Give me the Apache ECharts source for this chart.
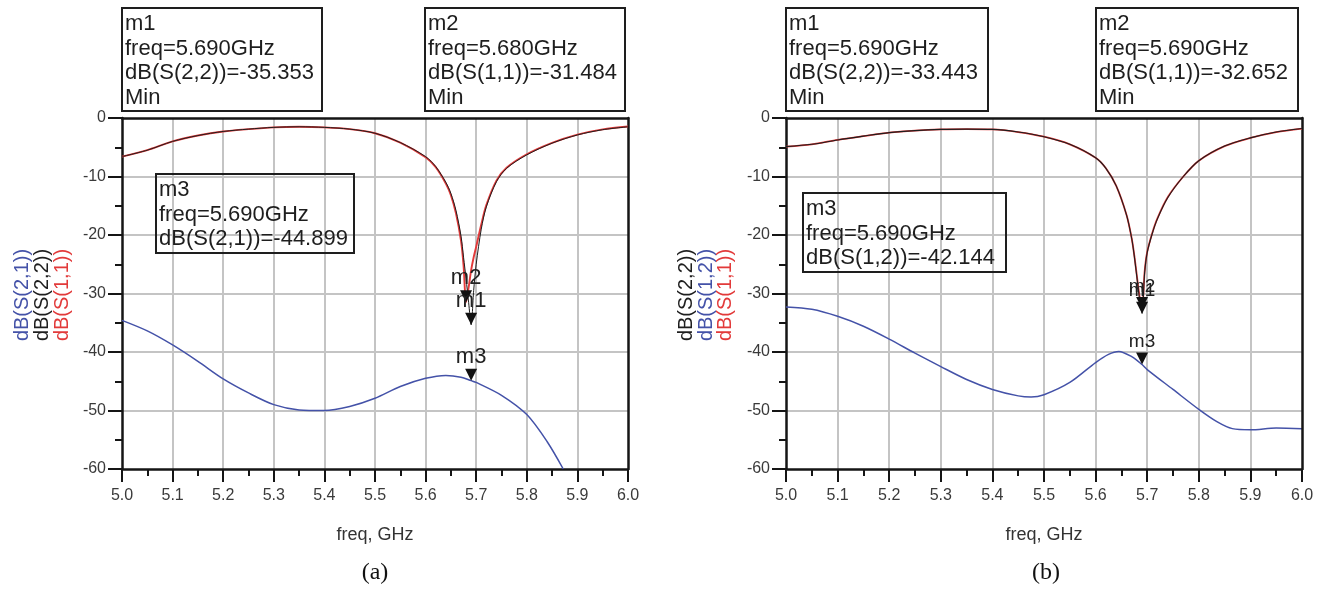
<!DOCTYPE html>
<html><head><meta charset="utf-8">
<script src="https://cdn.jsdelivr.net/npm/echarts@6/dist/echarts.min.js"></script>
<style>html,body{margin:0;padding:0;background:#fff}#c{width:1324px;height:590px}</style>
</head><body><div id="c"></div>
<script>
// ---------- DATA ----------
// Panel (a)
const freqA = [5.0,5.05,5.1,5.15,5.2,5.25,5.3,5.35,5.4,5.45,5.5,5.55,5.6,5.62,5.64,5.65,5.66,5.67,5.675,5.68,5.685,5.69,5.695,5.70,5.71,5.72,5.74,5.76,5.8,5.85,5.9,5.95,6.0];
const s22A  = [-6.6,-5.5,-4.0,-3.0,-2.3,-1.9,-1.6,-1.5,-1.6,-1.9,-2.6,-4.2,-6.6,-8.3,-11.0,-12.9,-15.8,-20.2,-23.8,-27.5,-31.5,-35.353,-29.5,-25.0,-19.0,-15.2,-10.9,-8.6,-6.3,-4.3,-2.9,-2.0,-1.5];
const s11A  = [-6.6,-5.5,-4.0,-3.0,-2.3,-1.9,-1.6,-1.5,-1.6,-1.9,-2.6,-4.2,-6.7,-8.4,-11.2,-13.2,-16.3,-21.0,-25.2,-31.484,-29.0,-26.0,-23.8,-22.0,-18.2,-14.9,-10.7,-8.5,-6.2,-4.25,-2.85,-1.95,-1.45];
const freqA21 = [5.0,5.05,5.1,5.15,5.2,5.25,5.3,5.35,5.4,5.45,5.5,5.55,5.6,5.64,5.67,5.69,5.7,5.75,5.8,5.84,5.872];
const s21A  = [-34.6,-36.4,-38.8,-41.6,-44.6,-47.0,-49.0,-49.9,-50.0,-49.3,-47.9,-45.9,-44.5,-44.0,-44.3,-44.899,-45.2,-47.4,-50.7,-55.3,-60.0];
// Panel (b)
const freqB = [5.0,5.05,5.1,5.15,5.2,5.25,5.3,5.35,5.4,5.45,5.5,5.55,5.6,5.62,5.64,5.66,5.67,5.675,5.68,5.685,5.69,5.695,5.70,5.71,5.72,5.74,5.77,5.8,5.85,5.9,5.95,6.0];
const s22B  = [-4.9,-4.5,-3.75,-3.1,-2.5,-2.15,-1.95,-1.9,-1.95,-2.4,-3.2,-4.5,-6.8,-8.6,-11.6,-16.6,-20.6,-23.6,-27.2,-30.8,-33.443,-26.5,-23.0,-19.7,-17.2,-13.6,-10.0,-7.3,-4.8,-3.4,-2.4,-1.8];
const s11B  = [-4.9,-4.5,-3.75,-3.1,-2.5,-2.15,-1.95,-1.9,-1.95,-2.4,-3.2,-4.5,-6.8,-8.6,-11.6,-16.6,-20.6,-23.5,-27.0,-30.4,-32.652,-26.3,-22.9,-19.6,-17.1,-13.5,-10.0,-7.3,-4.8,-3.4,-2.4,-1.8];
const freqB12 = [5.0,5.05,5.1,5.15,5.2,5.25,5.3,5.35,5.4,5.45,5.475,5.5,5.55,5.6,5.625,5.645,5.67,5.69,5.7,5.75,5.8,5.835,5.865,5.9,5.95,6.0];
const s12B  = [-32.3,-32.7,-33.9,-35.6,-37.8,-40.2,-42.5,-44.7,-46.4,-47.5,-47.7,-47.3,-45.2,-41.8,-40.4,-39.9,-40.8,-42.144,-43.0,-46.4,-49.8,-51.9,-53.1,-53.3,-53.0,-53.1];
// Markers
const markerNamesA = ['m1','m2','m3'];
const markerFreqA  = [5.690, 5.680, 5.690];
const markerValA   = [-35.353, -31.484, -44.899];
const markerExprA  = ['dB(S(2,2))','dB(S(1,1))','dB(S(2,1))'];
const markerMinA   = [true, true, false];
const markerNamesB = ['m1','m2','m3'];
const markerFreqB  = [5.690, 5.690, 5.690];
const markerValB   = [-33.443, -32.652, -42.144];
const markerExprB  = ['dB(S(2,2))','dB(S(1,1))','dB(S(1,2))'];
const markerMinB   = [true, true, false];
// Axis / labels
const xMin = 5.0, xMax = 6.0, xStep = 0.1;
const yMin = -60, yMax = 0, yStep = 10;
const xName = 'freq, GHz';
const yNamesA = ['dB(S(2,1))','dB(S(2,2))','dB(S(1,1))'];
const yNamesB = ['dB(S(2,2))','dB(S(1,2))','dB(S(1,1))'];
const captions = ['(a)','(b)'];

// ---------- STYLE / LAYOUT ----------
const FONT = 'Liberation Sans, Arial, sans-serif';
const BLUE = '#4452a8', RED = '#e23a3a', BLACK = '#1e1e1e';
const grids = [
  {left:122, top:118, width:506, height:351},
  {left:786, top:118, width:516, height:351}
];
const boxesA = [[122,8,200,103],[425,8,200,103],[156,174,198,79]];
const boxesB = [[786,8,202,103],[1096,8,202,103],[803,193,203,79]];
const yNamePosA = [[22,295],[42,295],[62,295]];
const yNamePosB = [[686,295],[706,295],[725,295]];
const yNameColA = [BLUE, BLACK, RED];
const yNameColB = [BLACK, BLUE, RED];

const pairs = (xs, ys) => xs.map((x,i)=>[x, ys[i]]);
const axisLineStyle = {color:'#151515', width:2.5};

function mainX(gi){
  return {type:'value', gridIndex:gi, min:xMin, max:xMax, interval:xStep, position:'bottom',
    axisLine:{show:true, onZero:false, lineStyle:axisLineStyle},
    axisTick:{show:true, length:13, lineStyle:{color:'#151515', width:2}},
    minorTick:{show:true, splitNumber:2, length:7, lineStyle:{color:'#151515', width:2}},
    axisLabel:{fontSize:16, color:'#3a3a3a', margin:19, fontFamily:FONT, formatter:v=>v.toFixed(1)},
    splitLine:{show:true, showMinLine:false, showMaxLine:false, lineStyle:{color:'#c4c4c4', width:2}},
    name:xName, nameLocation:'middle', nameGap:57,
    nameTextStyle:{fontSize:18, color:'#333', fontFamily:FONT}};
}
function borderX(gi){
  return {type:'value', gridIndex:gi, min:xMin, max:xMax, position:'top', z:3,
    axisLine:{show:true, onZero:false, lineStyle:axisLineStyle},
    axisTick:{show:false}, axisLabel:{show:false}, splitLine:{show:false}};
}
function mainY(gi){
  return {type:'value', gridIndex:gi, min:yMin, max:yMax, interval:yStep, position:'left',
    axisLine:{show:true, onZero:false, lineStyle:axisLineStyle},
    axisTick:{show:true, length:14, lineStyle:{color:'#151515', width:2}},
    minorTick:{show:true, splitNumber:2, length:7, lineStyle:{color:'#151515', width:2}},
    axisLabel:{fontSize:16, color:'#3a3a3a', margin:16, fontFamily:FONT},
    splitLine:{show:true, showMinLine:false, showMaxLine:false, lineStyle:{color:'#c4c4c4', width:2}}};
}
function borderY(gi){
  return {type:'value', gridIndex:gi, min:yMin, max:yMax, position:'right', z:3,
    axisLine:{show:true, onZero:false, lineStyle:axisLineStyle},
    axisTick:{show:false}, axisLabel:{show:false}, splitLine:{show:false}};
}

const TRI = 'path://M0,0 L12,0 L6,12 Z';
function mp(name, f, v, size){
  return {symbol:TRI, symbolSize:[12,12], symbolOffset:[0,'-50%'],
    itemStyle:{color:'#111'},
    label:{show:true, position:'top', distance:1, color:'#222', fontSize:size, fontFamily:FONT, formatter:'{b}'},
    data:[{name:name, coord:[f, v]}]};
}
function line(name, xi, yi, data, color, width, z, markPoint){
  const s = {type:'line', name, xAxisIndex:xi, yAxisIndex:yi, data, showSymbol:false,
    smooth:0.3, clip:true, z, lineStyle:{color, width}, itemStyle:{color}, silent:true};
  if (markPoint) s.markPoint = markPoint;
  return s;
}

const series = [
  line('S21a', 0, 0, pairs(freqA21, s21A), BLUE, 1.5, 2, mp(markerNamesA[2], markerFreqA[2], markerValA[2], 22)),
  line('S11a', 0, 0, pairs(freqA, s11A), RED, 1.9, 3, mp(markerNamesA[1], markerFreqA[1], markerValA[1], 22)),
  line('S22a', 0, 0, pairs(freqA, s22A), BLACK, 1.0, 4, mp(markerNamesA[0], markerFreqA[0], markerValA[0], 22)),
  line('S12b', 2, 2, pairs(freqB12, s12B), BLUE, 1.5, 2, mp(markerNamesB[2], markerFreqB[2], markerValB[2], 19)),
  line('S11b', 2, 2, pairs(freqB, s11B), RED, 1.8, 3, mp(markerNamesB[1], markerFreqB[1], markerValB[1], 19)),
  line('S22b', 2, 2, pairs(freqB, s22B), BLACK, 1.1, 4, mp(markerNamesB[0], markerFreqB[0], markerValB[0], 19))
];

function boxText(n, f, expr, v, isMin){
  const lines = [n, 'freq=' + f.toFixed(3) + 'GHz', expr + '=' + v.toFixed(3)];
  if (isMin) lines.push('Min');
  return lines.join('\n');
}
const graphic = [];
function addBoxes(boxes, names, fs, exprs, vals, mins){
  boxes.forEach((b,i)=>{
    graphic.push({type:'rect', z:10, shape:{x:b[0], y:b[1], width:b[2], height:b[3]},
      style:{fill:'none', stroke:'#1e1e1e', lineWidth:2}});
    graphic.push({type:'text', z:11, x:b[0]+3, y:b[1]+4,
      style:{text:boxText(names[i], fs[i], exprs[i], vals[i], mins[i]), fontSize:22, fontFamily:FONT,
        lineHeight:24.5, fill:'#1e1e1e', align:'left', verticalAlign:'top'}});
  });
}
addBoxes(boxesA, markerNamesA, markerFreqA, markerExprA, markerValA, markerMinA);
addBoxes(boxesB, markerNamesB, markerFreqB, markerExprB, markerValB, markerMinB);
function addYNames(names, pos, cols){
  names.forEach((n,i)=>{
    graphic.push({type:'text', z:11, x:pos[i][0], y:pos[i][1], rotation:Math.PI/2,
      style:{text:n, fontSize:20, fontFamily:FONT, fill:cols[i], align:'center', verticalAlign:'middle'}});
  });
}
addYNames(yNamesA, yNamePosA, yNameColA);
addYNames(yNamesB, yNamePosB, yNameColB);
graphic.push({type:'text', z:11, x:375, y:573, style:{text:captions[0], fontSize:24, fontFamily:'Liberation Serif, Times New Roman, serif', fill:'#111', align:'center', verticalAlign:'middle'}});
graphic.push({type:'text', z:11, x:1046, y:573, style:{text:captions[1], fontSize:24, fontFamily:'Liberation Serif, Times New Roman, serif', fill:'#111', align:'center', verticalAlign:'middle'}});

const chart = echarts.init(document.getElementById('c'), null, {renderer:'canvas'});
chart.setOption({
  animation:false,
  backgroundColor:'#fff',
  grid:grids,
  xAxis:[mainX(0), borderX(0), mainX(1), borderX(1)],
  yAxis:[mainY(0), borderY(0), mainY(1), borderY(1)],
  series:series,
  graphic:graphic
});
</script></body></html>
